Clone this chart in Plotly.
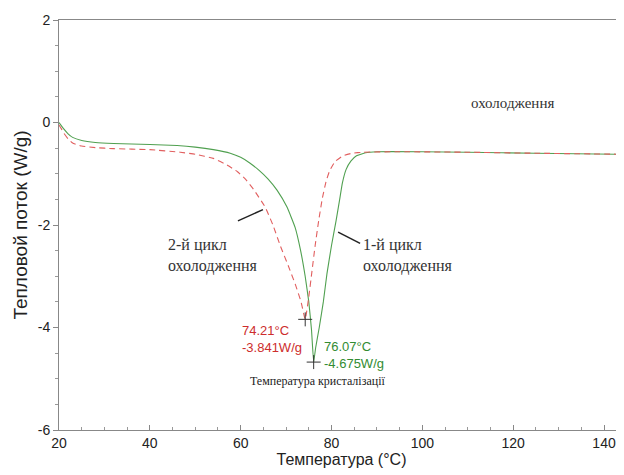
import plotly.graph_objects as go

# 1st cooling cycle (green, solid)
t1 = [20, 20.5, 21, 22, 23, 25, 28, 32, 40, 46, 50, 54, 57.7, 60, 62, 64, 66, 68, 70.2, 72, 73.2, 74.2,
      75.0, 75.6, 76.07, 76.5, 77.3, 78.2, 79.0, 80.0, 81.0, 81.8, 82.4, 83.2, 84.3, 85.5, 87.5, 90,
      100, 110, 125, 144.5]
v1 = [0.0, -0.06, -0.12, -0.22, -0.29, -0.35, -0.39, -0.41, -0.43, -0.45, -0.48, -0.53, -0.6, -0.68,
      -0.79, -0.93, -1.1, -1.32, -1.65, -2.05, -2.5, -3.0, -3.5, -4.05, -4.675, -4.4, -4.0, -3.5, -2.95,
      -2.4, -1.92, -1.5, -1.18, -0.92, -0.75, -0.65, -0.59, -0.57, -0.57, -0.58, -0.6, -0.62]

# 2nd cooling cycle (red, dashed)
t2 = [20, 20.5, 21, 22, 23, 25, 28, 32, 40, 46.7, 50, 54, 57, 59.3, 61, 62.8, 65.4, 67.1, 68.7, 70.5,
      72, 73.3, 74.21, 75.0, 75.7, 76.4, 77.2, 78.0, 78.8, 79.6, 80.8, 82.5, 84.5, 87, 95, 110, 125,
      144.5]
v2 = [-0.05, -0.12, -0.2, -0.32, -0.4, -0.46, -0.49, -0.51, -0.53, -0.58, -0.62, -0.7, -0.83, -0.96,
      -1.1, -1.3, -1.65, -2.0, -2.4, -2.8, -3.15, -3.5, -3.841, -3.4, -2.9, -2.4, -1.9, -1.47,
      -1.15, -0.94, -0.76, -0.65, -0.6, -0.58, -0.57, -0.58, -0.6, -0.62]

peak_t = [74.21, 76.07]
peak_v = [-3.841, -4.675]

x_ticks = [20, 40, 60, 80, 100, 120, 140]
y_ticks = [2, 0, -2, -4, -6]
y_tick_text = ["2", "0", "-2", "-4", "-6"]

GREEN = "rgb(80,160,80)"
RED = "rgb(225,95,95)"
SERIF = "Liberation Serif, Times New Roman, serif"
SANS = "Liberation Sans, Arial, sans-serif"

fig = go.Figure()
fig.add_trace(go.Scatter(x=t1, y=v1, mode="lines", line=dict(color=GREEN, width=1.1, shape="spline", smoothing=0.35),
                         showlegend=False, hoverinfo="skip"))
fig.add_trace(go.Scatter(x=t2, y=v2, mode="lines", line=dict(color=RED, width=1.1, dash="6px,4px", shape="spline", smoothing=0.35),
                         showlegend=False, hoverinfo="skip"))
fig.add_trace(go.Scatter(x=peak_t, y=peak_v, mode="markers",
                         marker=dict(symbol="cross-thin", size=10, line=dict(color="#333", width=1)),
                         showlegend=False, hoverinfo="skip"))

# leader lines
fig.add_shape(type="line", x0=59.4, y0=-1.92, x1=64.9, y1=-1.70, line=dict(color="#222", width=1.5))
fig.add_shape(type="line", x0=81.45, y0=-2.14, x1=86.3, y1=-2.36, line=dict(color="#222", width=1.5))

ann = [
    dict(x=119.8, y=0.38, text="охолодження", font=dict(family=SERIF, size=15, color="#333"), xanchor="center"),
    dict(x=43.6, y=-2.6, text="2-й цикл<br>охолодження", font=dict(family=SERIF, size=16, color="#333"), xanchor="left", align="left"),
    dict(x=86.5, y=-2.6, text="1-й цикл<br>охолодження", font=dict(family=SERIF, size=16, color="#333"), xanchor="left", align="left"),
    dict(x=73.9, y=-4.22, text="74.21°C<br>-3.841W/g", font=dict(family=SANS, size=13, color="rgb(205,45,45)"), xanchor="right", align="left"),
    dict(x=78.0, y=-4.53, text="76.07°C<br>-4.675W/g", font=dict(family=SANS, size=13, color="rgb(50,140,50)"), xanchor="left", align="left"),
    dict(x=77.0, y=-5.05, text="Температура кристалізації", font=dict(family=SERIF, size=12, color="#222"), xanchor="center"),
]
for a in ann:
    fig.add_annotation(xref="x", yref="y", showarrow=False, yanchor="middle", **a)

fig.update_layout(
    width=616, height=467,
    margin=dict(l=51, r=0, t=12, b=45),
    plot_bgcolor="white", paper_bgcolor="white",
    font=dict(family=SANS, size=12, color="#222"),
)
fig.update_xaxes(range=[20, 144.4], tickvals=x_ticks, ticks="inside", ticklen=5, tickcolor="#888",
                 showline=True, linecolor="#888", linewidth=1, mirror=True, showgrid=False, zeroline=False,
                 minor=dict(dtick=5, tick0=20, ticks="inside", ticklen=3, tickcolor="#999"),
                 title=dict(text="Температура (°C)", font=dict(size=16), standoff=2),
                 tickfont=dict(size=14, color="#222"))
fig.update_yaxes(range=[-6, 2], tickvals=y_ticks, ticktext=y_tick_text, ticks="outside", ticklen=5, tickcolor="#888",
                 showline=True, linecolor="#888", linewidth=1, showgrid=False, zeroline=False,
                 minor=dict(dtick=0.5, tick0=0, ticks="outside", ticklen=3, tickcolor="#999"),
                 title=dict(text="Тепловой поток (W/g)", font=dict(size=19), standoff=5),
                 tickfont=dict(size=14, color="#222"))

fig.write_html("out.html")
